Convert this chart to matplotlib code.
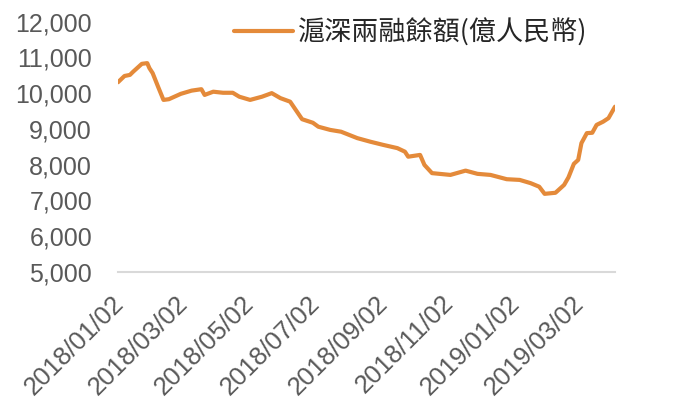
import pandas as pd
import matplotlib.pyplot as plt
import matplotlib.dates as mdates
import matplotlib.transforms as mtransforms
from matplotlib.ticker import FuncFormatter

# 滬深兩融餘額 (億人民幣)
dates = ['2018-01-02', '2018-01-08', '2018-01-13', '2018-01-16', '2018-01-24',
         '2018-01-29', '2018-01-31', '2018-02-03', '2018-02-08', '2018-02-13',
         '2018-02-18', '2018-03-01', '2018-03-11', '2018-03-20', '2018-03-23',
         '2018-03-31', '2018-04-09', '2018-04-18', '2018-04-24', '2018-05-04',
         '2018-05-15', '2018-05-24', '2018-06-01', '2018-06-10', '2018-06-21',
         '2018-07-01', '2018-07-06', '2018-07-17', '2018-07-27', '2018-08-11',
         '2018-08-23', '2018-09-04', '2018-09-17', '2018-09-24', '2018-09-27',
         '2018-10-08', '2018-10-12', '2018-10-19', '2018-11-05', '2018-11-19',
         '2018-11-30', '2018-12-12', '2018-12-27', '2019-01-08', '2019-01-18',
         '2019-01-26', '2019-01-31', '2019-02-10', '2019-02-18', '2019-02-22',
         '2019-02-27', '2019-03-03', '2019-03-06', '2019-03-11', '2019-03-16',
         '2019-03-20', '2019-03-26', '2019-03-31', '2019-04-06']
balance = [10305, 10480, 10510, 10600, 10820,
           10840, 10700, 10560, 10180, 9810,
           9830, 9980, 10070, 10110, 9950,
           10040, 10010, 10010, 9900, 9810,
           9900, 10000, 9860, 9760, 9270,
           9170, 9060, 8970, 8920, 8740,
           8640, 8550, 8460, 8360, 8220,
           8270, 7990, 7760, 7710, 7830,
           7740, 7710, 7590, 7570, 7480,
           7380, 7180, 7210, 7430, 7640,
           8020, 8130, 8600, 8880, 8890,
           9110, 9200, 9300, 9620]
tick_dates = ['2018-01-02', '2018-03-02', '2018-05-02', '2018-07-02',
              '2018-09-02', '2018-11-02', '2019-01-02', '2019-03-02']
series_name = '滬深兩融餘額(億人民幣)'

x = pd.to_datetime(dates)
ticks = pd.to_datetime(tick_dates)

fig = plt.figure(figsize=(6.8, 4.11), dpi=100)
ax = fig.add_axes([118 / 680, 1 - 271.7 / 411, 497 / 680, 250 / 411])

ax.plot(x, balance, color='#E48A3A', linewidth=3, solid_capstyle='round',
        solid_joinstyle='round', label=series_name)

ax.set_ylim(5000, 12000)
ax.set_yticks(range(5000, 12001, 1000))
ax.yaxis.set_major_formatter(FuncFormatter(lambda v, p: f'{int(v):,}'))
ax.set_xlim(x[0], x[-1])
ax.set_xticks(ticks)
ax.xaxis.set_major_formatter(mdates.DateFormatter('%Y/%m/%d'))

for s in ['top', 'right', 'left']:
    ax.spines[s].set_visible(False)
ax.spines['bottom'].set_color('#d9d9d9')
ax.spines['bottom'].set_linewidth(1.5)

ax.tick_params(axis='both', length=0, labelcolor='#595959')
ax.tick_params(axis='y', pad=18.7, labelsize=18)
ax.tick_params(axis='x', pad=14, labelsize=18.5)
for lab in ax.get_yticklabels() + ax.get_xticklabels():
    lab.set_family('Liberation Sans')
shift = mtransforms.ScaledTranslation(-6 / 100, 0, fig.dpi_scale_trans)
for lab in ax.get_xticklabels():
    lab.set_rotation(45)
    lab.set_ha('right')
    lab.set_va('top')
    lab.set_rotation_mode('anchor')
    lab.set_transform(lab.get_transform() + shift)

leg = ax.legend(loc='upper left', bbox_to_anchor=(0.185, 1.11), frameon=False,
                handlelength=2.15, handletextpad=0.2,
                prop={'family': ['Noto Sans CJK TC', 'DejaVu Sans'], 'size': 19.5})
for t in leg.get_texts():
    t.set_color('#262626')

fig.savefig('out.png', dpi=100)
